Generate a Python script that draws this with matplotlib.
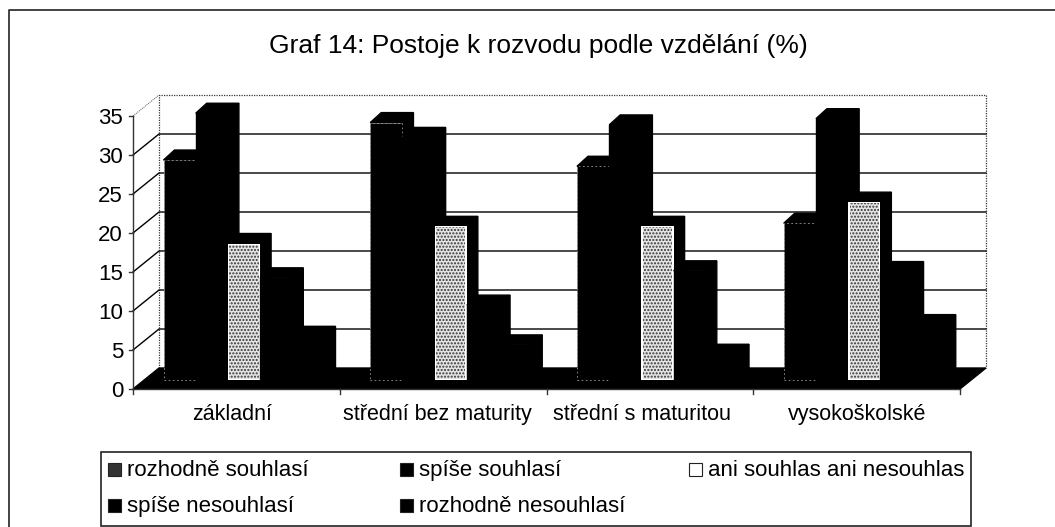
import matplotlib
matplotlib.use("Agg")
from matplotlib import pyplot as plt
from matplotlib.patches import Polygon, Rectangle

plt.rcParams["font.family"] = ["Liberation Sans", "DejaVu Sans"]

# Data
kategorie = ["základní", "střední bez maturity", "střední s maturitou", "vysokoškolské"]
rozhodne_souhlasi = [28.2, 33.0, 27.4, 20.1]
spise_souhlasi = [34.2, 31.1, 32.7, 33.5]
ani_ani = [17.5, 19.7, 19.7, 22.8]
spise_nesouhlasi = [13.1, 9.6, 14.0, 13.9]
rozhodne_nesouhlasi = [5.6, 4.5, 3.3, 7.1]
nazvy = ["rozhodně souhlasí", "spíše souhlasí", "ani souhlas ani nesouhlas",
         "spíše nesouhlasí", "rozhodně nesouhlasí"]
serie = [rozhodne_souhlasi, spise_souhlasi, ani_ani, spise_nesouhlasi, rozhodne_nesouhlasi]
y_ticks = [0, 5, 10, 15, 20, 25, 30, 35]

W, H = 1055, 527
fig = plt.figure(figsize=(W / 100, H / 100), dpi=100, facecolor="white")

# front plane of the fake 3D chart, pixels to figure fraction
left, right, y0, y35 = 133, 960, 389, 116
ax = fig.add_axes([left / W, 1 - y0 / H, (right - left) / W, (y0 - y35) / H])
ax.set_xlim(0, 4)
ax.set_ylim(0, 35)
ax.axis("off")

px = 4 / (right - left)      # one pixel in x data units
py = 35 / (y0 - y35)         # one pixel in y data units
hl_x, hl_y = 26 * px, 21 * py    # whole floor depth
base_x, base_y = 8 * px, 9 * py  # where the bars stand on the floor
top_x, top_y = 11 * px, 10 * py  # depth of a bar
bar_w = 32.2 * px
start = 22.5 * px

# back wall and floor
ax.plot([hl_x, hl_x, 4 + hl_x, 4 + hl_x], [hl_y, 35 + hl_y, 35 + hl_y, hl_y],
        color="#333333", lw=0.9, ls=(0, (1, 1)), clip_on=False, zorder=1)
for v in y_ticks[1:-1]:
    ax.plot([0, hl_x, 4 + hl_x], [v, v + hl_y, v + hl_y], color="black", lw=1.0,
            clip_on=False, zorder=1)
ax.plot([0, hl_x], [35, 35 + hl_y], color="#555555", lw=0.7, ls=(0, (1, 1)), clip_on=False, zorder=1)
ax.add_patch(Polygon([(0, 0), (4, 0), (4 + hl_x, hl_y), (hl_x, hl_y)], closed=True,
                     fc="black", ec="black", clip_on=False, zorder=2))

# bars, back to front inside each group
for i in range(len(kategorie)):
    for s, hodnoty in enumerate(serie):
        v = hodnoty[i]
        x = i + start + base_x + s * bar_w
        z = 3 + s * 0.01 + i
        ax.add_patch(Polygon([(x + bar_w, base_y), (x + bar_w + top_x, base_y + top_y),
                              (x + bar_w + top_x, base_y + top_y + v), (x + bar_w, base_y + v)],
                             closed=True, fc="black", ec="black", lw=1.0, clip_on=False, zorder=z))
        ax.add_patch(Polygon([(x, base_y + v), (x + top_x, base_y + v + top_y),
                              (x + bar_w + top_x, base_y + v + top_y), (x + bar_w, base_y + v)],
                             closed=True, fc="black", ec="black", lw=1.0, clip_on=False, zorder=z))
        if s == 2:
            ax.bar(x, v, bar_w, bottom=base_y, align="edge", color="white", edgecolor="white",
                   lw=0, clip_on=False, zorder=z)
            ax.bar(x + 1.5 * px, v - 2 * py, bar_w - 3 * px, bottom=base_y + py, align="edge",
                   color="#e4e4e4", edgecolor="#333333", hatch=".....", lw=0, clip_on=False, zorder=z)
        elif s == 0:
            ax.bar(x, v, bar_w, bottom=base_y, align="edge", color="black", edgecolor="#999999",
                   lw=0.6, ls=(0, (2, 3)), clip_on=False, zorder=z)
        else:
            ax.bar(x, v, bar_w, bottom=base_y, align="edge", color="black", edgecolor="black",
                   lw=1.0, clip_on=False, zorder=z)

# axes on the front plane
ax.plot([0, 0], [0, 35], color="#333333", lw=1.0, clip_on=False, zorder=20)
ax.plot([0, 4], [0, 0], color="#333333", lw=1.0, clip_on=False, zorder=20)
for v in y_ticks:
    ax.plot([-4 * px, 0], [v, v], color="#333333", lw=1.0, clip_on=False, zorder=20)
    ax.text(-10 * px, v, str(v), ha="right", va="center_baseline", fontsize=16, clip_on=False)
for i in range(5):
    ax.plot([i, i], [0, -5 * py], color="#333333", lw=1.0, clip_on=False, zorder=20)
posun = [-4, -6, -8, 0]
for i, k in enumerate(kategorie):
    ax.text(i + 0.5 + posun[i] * px, -31 * py, k, ha="center", va="baseline", fontsize=15.5, clip_on=False)

fig.text(538 / W, 1 - 53 / H, "Graf 14: Postoje k rozvodu podle vzdělání (%)",
         ha="center", va="baseline", fontsize=19)

# outer frame (only left and top show) and legend frame
fig.add_artist(plt.Line2D([9 / W, 9 / W, 1], [0, 1 - 10 / H, 1 - 10 / H], transform=fig.transFigure,
                          color="#222222", lw=1.2))
fig.add_artist(Rectangle((101 / W, 1 - 526 / H), 870 / W, 74 / H, transform=fig.transFigure,
                         fc="none", ec="#222222", lw=1.2))
leg_x = [108, 400, 689, 108, 400]
leg_y = [476, 476, 476, 512, 512]  # text baselines
for s, nazev in enumerate(nazvy):
    barva = "white" if s == 2 else ("#333333" if s == 0 else "black")
    fig.add_artist(Rectangle((leg_x[s] / W, 1 - leg_y[s] / H), 13 / W, 13 / H,
                             transform=fig.transFigure, fc=barva, ec="#222222", lw=0.8))
    fig.text((leg_x[s] + 19) / W, 1 - leg_y[s] / H, nazev, ha="left", va="baseline", fontsize=16)

fig.savefig("out.png", dpi=100)
